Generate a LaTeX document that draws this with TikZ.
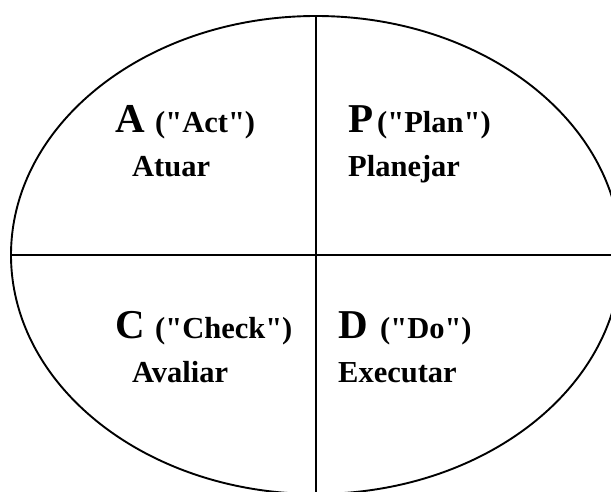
\documentclass[tikz,border=0pt]{standalone}
\usepackage{fontspec}
\setmainfont{Liberation Serif}
\newcommand\dqm{\XeTeXglyph\XeTeXcharglyph"22\relax}
\begin{document}
\begin{tikzpicture}[x=1pt,y=-1pt,
  big/.style={anchor=base west,inner sep=0pt,font=\bfseries\fontsize{41}{41}\selectfont},
  small/.style={anchor=base west,inner sep=0pt,font=\bfseries\fontsize{30.5}{30.5}\selectfont},
  frame/.style={line width=1.9pt}]
\useasboundingbox (0,0) rectangle (611,492);
\begin{scope}
\clip (0,0) rectangle (611,492);
\draw[frame] (316,255) ellipse [x radius=305, y radius=239];
\coordinate (top) at (316,16);
\coordinate (bot) at (316,492);
\coordinate (lft) at (11,255);
\coordinate (rgt) at (611,255);
\draw[frame] (top) -- (bot);
\draw[frame] (lft) -- (rgt);
\end{scope}
\node[big] (A) at (115,133) {A};
\node[small] (Aq) at (155,133) {(\dqm Act\dqm)};
\node[small] (At) at (132,177) {Atuar};
\node[big] (P) at (348,133) {P};
\node[small] (Pq) at (377,133) {(\dqm Plan\dqm)};
\node[small] (Pt) at (348,177) {Planejar};
\node[big] (C) at (115,338) {C};
\node[small] (Cq) at (155,338) {(\dqm Check\dqm)};
\node[small] (Ct) at (132,382) {Avaliar};
\node[big] (D) at (338,338) {D};
\node[small] (Dq) at (380,338) {(\dqm Do\dqm)};
\node[small] (Dt) at (338,382) {Executar};
\end{tikzpicture}
\end{document}
